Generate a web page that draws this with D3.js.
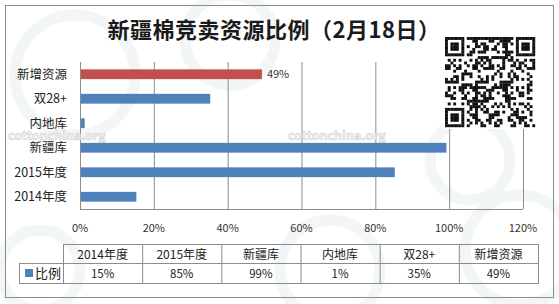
<!DOCTYPE html>
<html>
<head>
<meta charset="utf-8">
<script src="https://cdn.jsdelivr.net/npm/d3@7"></script>
<style>
  body { margin: 0; background: #fff; }
  text { font-family: "Noto Sans CJK SC", "Noto Sans", sans-serif; }
</style>
</head>
<body>
<div id="chart"></div>
<script>
// data, in table order (bottom bar first)
var categories = ["2014年度", "2015年度", "新疆库", "内地库", "双28+", "新增资源"];
var values = [15, 85, 99, 1, 35, 49];
var barColors = ["#4f81bd", "#4f81bd", "#4f81bd", "#4f81bd", "#4f81bd", "#c0504d"];
var xTicks = [0, 20, 40, 60, 80, 100, 120];
var seriesName = "比例";
var title = "新疆棉竞卖资源比例（2月18日）";

var W = 559, H = 304;
var plot = {left: 80, right: 523, top: 62, bottom: 209};

var svg = d3.select("#chart").append("svg")
    .attr("width", W)
    .attr("height", H);

// faint watermark rings
var rings = [[75, 75, 60], [230, 40, 45], [330, 270, 50], [520, 250, 55], [40, 270, 40], [470, 160, 40]];
svg.selectAll(".ring").data(rings).enter().append("circle")
    .attr("cx", function(d) { return d[0]; })
    .attr("cy", function(d) { return d[1]; })
    .attr("r", function(d) { return d[2]; })
    .attr("fill", "none")
    .attr("stroke", "#f2f6f6")
    .attr("stroke-width", 11);

// outer border
svg.append("rect")
    .attr("x", 5.5).attr("y", 5.5)
    .attr("width", 548).attr("height", 292)
    .attr("fill", "none")
    .attr("stroke", "#8c8c8c");

// title
svg.append("text")
    .attr("x", 274).attr("y", 38)
    .attr("text-anchor", "middle")
    .attr("font-size", 22)
    .attr("font-weight", "bold")
    .attr("letter-spacing", 0.5)
    .attr("fill", "#1a1a1a")
    .text(title);

var x = d3.scaleLinear().domain([0, 120]).range([plot.left, plot.right]);
var y = d3.scaleBand()
    .domain(categories.slice().reverse())
    .range([plot.top, plot.bottom])
    .paddingInner(0.6).paddingOuter(0.3);

// gridlines
svg.selectAll(".grid").data(xTicks).enter().append("line")
    .attr("x1", function(d) { return x(d) + 0.5; })
    .attr("x2", function(d) { return x(d) + 0.5; })
    .attr("y1", plot.top)
    .attr("y2", plot.bottom)
    .attr("stroke", "#8c8c8c");

svg.append("line")
    .attr("x1", plot.left).attr("x2", plot.right)
    .attr("y1", plot.bottom + 0.5).attr("y2", plot.bottom + 0.5)
    .attr("stroke", "#8c8c8c");

// watermark text
[[8, 140], [288, 140]].forEach(function(p) {
  svg.append("text")
      .attr("x", p[0]).attr("y", p[1])
      .attr("font-family", "Verdana, DejaVu Sans, sans-serif")
      .attr("font-size", 12.5)
      .attr("font-weight", "bold")
      .attr("fill", "#f4f4f4")
      .attr("stroke", "#d2d2d2")
      .attr("stroke-width", 0.6)
      .text("cottonchina.org");
});

// bars
svg.selectAll(".bar").data(categories).enter().append("rect")
    .attr("x", x(0) + 1)
    .attr("y", function(d) { return y(d); })
    .attr("width", function(d, i) { return x(values[i]) - x(0); })
    .attr("height", y.bandwidth())
    .attr("fill", function(d, i) { return barColors[i]; });

// data label on the red bar
var last = categories.length - 1;
svg.append("text")
    .attr("x", x(values[last]) + 6)
    .attr("y", y(categories[last]) + y.bandwidth() / 2)
    .attr("dy", "0.35em")
    .attr("font-size", 11)
    .attr("fill", "#333")
    .text(values[last] + "%");

// category labels
svg.selectAll(".cat").data(categories).enter().append("text")
    .attr("x", 67)
    .attr("y", function(d) { return y(d) + y.bandwidth() / 2; })
    .attr("dy", "0.35em")
    .attr("text-anchor", "end")
    .attr("font-size", 12.5)
    .attr("fill", "#222")
    .text(function(d) { return d; });

// x tick labels
svg.selectAll(".xt").data(xTicks).enter().append("text")
    .attr("x", function(d) { return x(d); })
    .attr("y", 228)
    .attr("dy", "0.35em")
    .attr("text-anchor", "middle")
    .attr("font-size", 11)
    .attr("fill", "#333")
    .text(function(d) { return d + "%"; });

// data table
var tab = {left: 63, right: 538, top: 244, mid: 263, bottom: 283, head: 19};
var col = d3.scaleBand().domain(categories).range([tab.left, tab.right]);
var g = svg.append("g").attr("stroke", "#8c8c8c").attr("fill", "none");
g.append("rect").attr("x", tab.left + 0.5).attr("y", tab.top + 0.5)
    .attr("width", tab.right - tab.left).attr("height", tab.bottom - tab.top);
g.append("rect").attr("x", tab.head + 0.5).attr("y", tab.mid + 0.5)
    .attr("width", tab.left - tab.head).attr("height", tab.bottom - tab.mid);
g.append("line").attr("x1", tab.left).attr("x2", tab.right)
    .attr("y1", tab.mid + 0.5).attr("y2", tab.mid + 0.5);
g.selectAll(".vc").data(categories.slice(1)).enter().append("line")
    .attr("x1", function(d) { return col(d) + 0.5; })
    .attr("x2", function(d) { return col(d) + 0.5; })
    .attr("y1", tab.top).attr("y2", tab.bottom);

svg.selectAll(".th").data(categories).enter().append("text")
    .attr("x", function(d) { return col(d) + col.bandwidth() / 2; })
    .attr("y", (tab.top + tab.mid) / 2 + 1)
    .attr("dy", "0.35em")
    .attr("text-anchor", "middle")
    .attr("font-size", 12)
    .attr("fill", "#222")
    .text(function(d) { return d; });

svg.selectAll(".td").data(categories).enter().append("text")
    .attr("x", function(d) { return col(d) + col.bandwidth() / 2; })
    .attr("y", (tab.mid + tab.bottom) / 2 + 1)
    .attr("dy", "0.35em")
    .attr("text-anchor", "middle")
    .attr("font-size", 11.5)
    .attr("fill", "#222")
    .text(function(d, i) { return values[i] + "%"; });

// legend key in the table
svg.append("rect")
    .attr("x", 25).attr("y", 269)
    .attr("width", 8).attr("height", 8)
    .attr("fill", "#4f81bd");
svg.append("text")
    .attr("x", 35).attr("y", 273.5)
    .attr("dy", "0.35em")
    .attr("font-size", 13)
    .attr("fill", "#222")
    .text(seriesName);

// QR-like decoration in the top right
var qr = {x: 445, y: 37, size: 90, n: 33};
var cell = qr.size / qr.n;
var modules = [];
function finder(i, j, oi, oj) {
  var a = i - oi, b = j - oj;
  if (a < 0 || a > 6 || b < 0 || b > 6) return null;
  if (a === 0 || a === 6 || b === 0 || b === 6) return true;
  if (a >= 2 && a <= 4 && b >= 2 && b <= 4) return true;
  return false;
}
for (var i = 0; i < qr.n; i++) {
  for (var j = 0; j < qr.n; j++) {
    var f = finder(i, j, 0, 0);
    if (f === null) f = finder(i, j, qr.n - 7, 0);
    if (f === null) f = finder(i, j, 0, qr.n - 7);
    var on;
    if (f !== null) on = f;
    else if ((i === 7 && j < 8) || (j === 7 && i < 8) || (i === qr.n - 8 && j < 8) || (j === 7 && i >= qr.n - 8) || (i === 7 && j >= qr.n - 8) || (j === qr.n - 8 && i < 8)) on = false;
    else on = ((i * 7 + j * 13 + (i * j) % 11 + (i ^ j) * 3) % 5) < 2;
    if (on) modules.push([i, j]);
  }
}
svg.append("rect")
    .attr("x", qr.x - 2).attr("y", qr.y - 2)
    .attr("width", qr.size + 4).attr("height", qr.size + 4)
    .attr("fill", "#fff");
svg.selectAll(".qm").data(modules).enter().append("rect")
    .attr("x", function(d) { return qr.x + d[0] * cell; })
    .attr("y", function(d) { return qr.y + d[1] * cell; })
    .attr("width", cell + 0.2)
    .attr("height", cell + 0.2)
    .attr("fill", "#111");
</script>
</body>
</html>
